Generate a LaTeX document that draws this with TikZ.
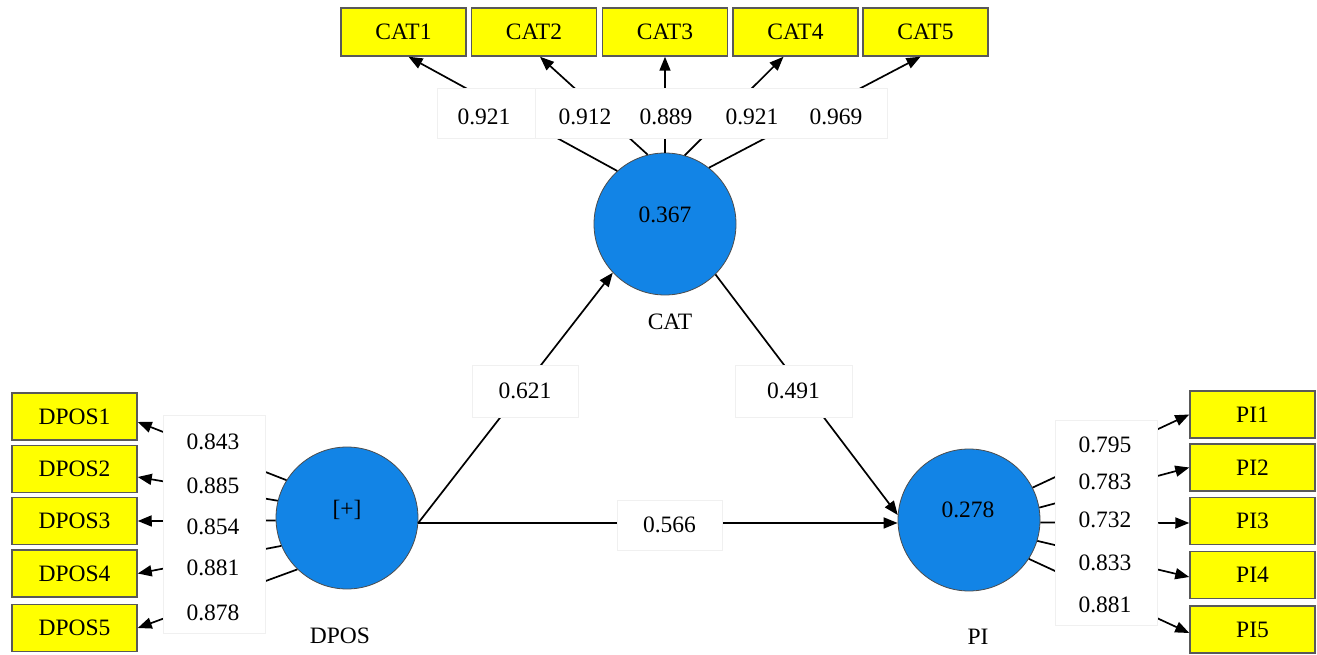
\documentclass[tikz,border=0pt]{standalone}
\usepackage{fontspec}
\setmainfont{Liberation Serif}
\usetikzlibrary{arrows.meta}
\definecolor{ybox}{RGB}{255,255,0}
\definecolor{lv}{RGB}{18,132,230}
\begin{document}
\begin{tikzpicture}[x=1pt,y=-1pt, font=\fontsize{23.5}{25}\selectfont,
 ind/.style={rectangle, fill=ybox, draw=black!65, line width=1.5pt, minimum width=125pt, minimum height=47pt, inner sep=0pt},
 lat/.style={circle, fill=lv, draw=black!70, line width=0.8pt, minimum size=142pt, inner sep=0pt},
 arr/.style={line width=1.7pt, -{Triangle[length=14pt,width=11pt]}},
 lbl/.style={fill=white, draw=black!6, line width=0.6pt},
 lblnode/.style={fill=white, draw=black!6, line width=0.6pt, inner sep=0pt},
 txt/.style={inner sep=0pt}]
\useasboundingbox[fill=white] (0,0) rectangle (1317,655);

% indicator boxes
\node[ind, minimum height=48pt] (c1) at (403.5,32) {CAT1};
\node[ind, minimum height=48pt] (c2) at (534,32) {CAT2};
\node[ind, minimum height=48pt] (c3) at (665,32) {CAT3};
\node[ind, minimum height=48pt] (c4) at (795.5,32) {CAT4};
\node[ind, minimum height=48pt] (c5) at (925.5,32) {CAT5};

\node[ind] (d1) at (74.5,416.5) {DPOS1};
\node[ind] (d2) at (74.5,469) {DPOS2};
\node[ind] (d3) at (74.5,521) {DPOS3};
\node[ind] (d4) at (74.5,573.5) {DPOS4};
\node[ind] (d5) at (74.5,628) {DPOS5};

\node[ind] (p1) at (1252.5,414.5) {PI1};
\node[ind] (p2) at (1252.5,467.5) {PI2};
\node[ind] (p3) at (1252.5,521) {PI3};
\node[ind] (p4) at (1252.5,575) {PI4};
\node[ind] (p5) at (1252.5,629.5) {PI5};

% latent variables
\node[lat] (cat) at (665,224) {};
\node[lat] (dpos) at (347,518) {};
\node[lat] (pi) at (969,520) {};

% outer loadings
\draw[arr] (cat.132) -- ([xshift=5pt]c1.south);
\draw[arr] (cat.104) -- ([xshift=6pt]c2.south);
\draw[arr] (cat.90) -- (c3.south);
\draw[arr] (cat.74) -- ([xshift=-12pt]c4.south);
\draw[arr] (cat.52) -- ([xshift=-5pt]c5.south);

\draw[arr] (dpos.148) -- ([yshift=-5.5pt]d1.east);
\draw[arr] (dpos.166) -- ([yshift=-8pt]d2.east);
\draw[arr] (dpos.182) -- (d3.east);
\draw[arr] (dpos.203) -- (d4.east);
\draw[arr] (dpos.226) -- (d5.east);

\draw[arr] (pi.27) -- (p1.west);
\draw[arr] (pi.10) -- (p2.west);
\draw[arr] (pi.-2) -- ([yshift=-2pt]p3.west);
\draw[arr] (pi.-17) -- ([yshift=-2pt]p4.west);
\draw[arr] (pi.-33) -- ([yshift=-3.5pt]p5.west);

% structural paths
\coordinate (ds) at (dpos.-4);
\draw[arr] (ds) -- (cat.223);
\draw[arr] (cat.-45) -- (pi.176);
\draw[arr] (ds) -- (ds -| pi.west);

% label backgrounds
\draw[lbl] (437,88) rectangle (535,138);
\draw[lbl] (535,88) rectangle (887,138);
\draw[lbl] (163,415) rectangle (265,633);
\draw[lbl] (1055,420) rectangle (1157,625);

% loading values
\node[txt] (lc1) at (484,117) {0.921};
\node[txt] (lc2) at (585,117) {0.912};
\node[txt] (lc3) at (666,117) {0.889};
\node[txt] (lc4) at (752,117) {0.921};
\node[txt] (lc5) at (836,117) {0.969};

\node[txt] (ld1) at (213,442) {0.843};
\node[txt] (ld2) at (213,486) {0.885};
\node[txt] (ld3) at (213,527) {0.854};
\node[txt] (ld4) at (213,568) {0.881};
\node[txt] (ld5) at (213,613) {0.878};

\node[txt] (lp1) at (1105,445) {0.795};
\node[txt] (lp2) at (1105,482) {0.783};
\node[txt] (lp3) at (1105,520) {0.732};
\node[txt] (lp4) at (1105,563) {0.833};
\node[txt] (lp5) at (1105,605) {0.881};

% path coefficients
\node[lblnode, minimum width=106pt, minimum height=52pt] (pc1) at (525,391) {0.621};
\node[lblnode, minimum width=117pt, minimum height=52pt] (pc2) at (793.5,391) {0.491};
\node[lblnode, minimum width=105pt, minimum height=50pt] (pc3) at (669.5,525) {0.566};

% latent texts
\node[txt] (catv) at (665,215) {0.367};
\node[txt] (catn) at (670,322) {CAT};
\node[txt] (dposv) at (347,510) {[+]};
\node[txt] (dposn) at (340,636) {DPOS};
\node[txt] (piv) at (968,510) {0.278};
\node[txt] (pin) at (978,637) {PI};
\end{tikzpicture}
\end{document}
